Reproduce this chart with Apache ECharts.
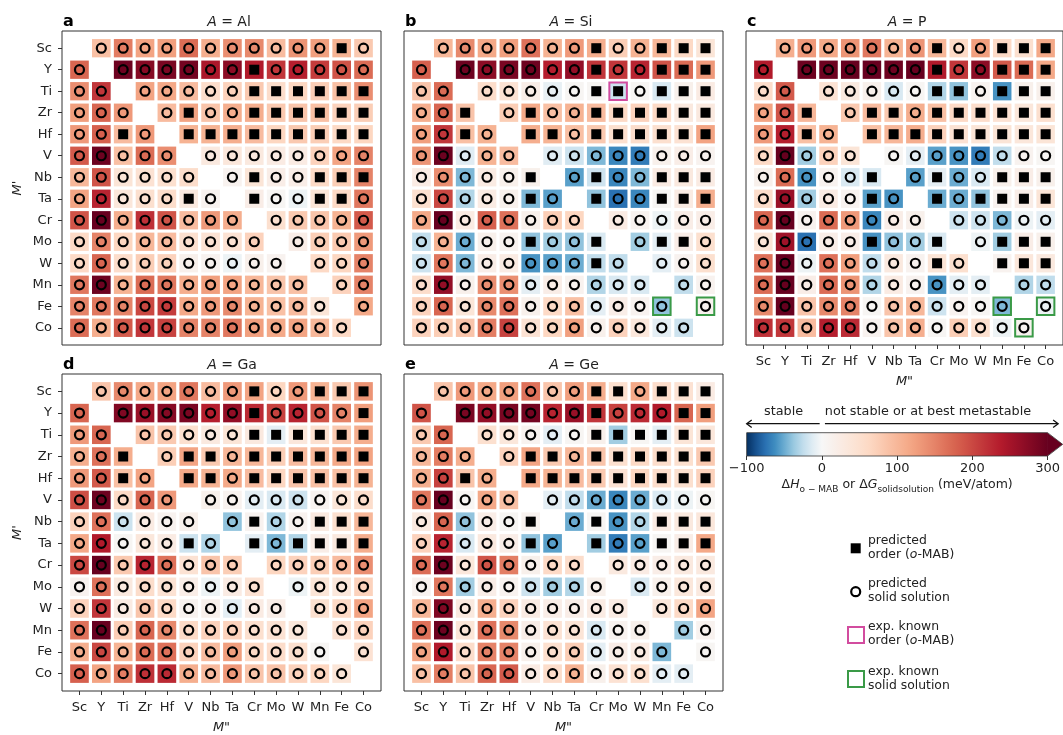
<!DOCTYPE html>
<html>
<head>
<meta charset="utf-8">
<script src="https://cdn.jsdelivr.net/npm/echarts@6/dist/echarts.min.js"></script>
<style>
html,body{margin:0;padding:0;background:#fff}
#chart{width:1063px;height:735px}
</style>
</head>
<body>
<div id="chart"></div>
<script>
// Transition metals on both M' (rows) and M'' (columns)
const elements = ['Sc','Y','Ti','Zr','Hf','V','Nb','Ta','Cr','Mo','W','Mn','Fe','Co'];
const colorbarTicks = [-100, 0, 100, 200, 300];

// Formation energy relative to competing phases (meV/atom); rows = M', columns = M''
const energyAl = [
  [null, 90, 155, 120, 125, 170, 110, 140, 145, 95, 135, 125, 105, 80],
  [175, null, 295, 275, 285, 290, 245, 270, 240, 215, 235, 210, 190, 170],
  [140, 215, null, 120, 115, 95, 55, 70, 80, 55, 65, 75, 90, 140],
  [125, 175, 130, null, 95, 120, 85, 110, 110, 80, 85, 90, 70, 75],
  [130, 180, 95, 130, null, 105, 105, 110, 95, 65, 80, 75, 60, 65],
  [185, 295, 90, 170, 140, null, 30, 35, 30, 25, 25, 70, 120, 150],
  [100, 190, 40, 45, 50, 55, null, 10, 40, 20, 20, 60, 75, 150],
  [120, 230, 35, 50, 55, 30, 10, null, 20, 5, -5, 40, 60, 160],
  [190, 300, 110, 220, 190, 95, 130, 110, null, 50, 80, 85, 105, 185],
  [60, 150, 65, 100, 95, 50, 45, 45, 70, null, 20, 75, 80, 130],
  [60, 175, 55, 75, 70, 15, 10, -5, 15, 10, null, 60, 65, 150],
  [160, 295, 105, 170, 160, 110, 125, 120, 100, 85, 90, null, 70, 150],
  [150, 160, 150, 200, 210, 115, 130, 145, 105, 90, 95, 40, null, 115],
  [170, 110, 185, 215, 205, 150, 150, 160, 125, 115, 120, 100, 60, null]
];
const energySi = [
  [null, 100, 145, 115, 125, 165, 105, 130, 110, 75, 105, 100, 60, 40],
  [180, null, 295, 270, 285, 295, 235, 265, 215, 215, 230, 190, 170, 130],
  [85, 170, null, 55, 45, 20, -8, 5, 5, -20, 5, -15, 15, 25],
  [110, 175, 85, null, 75, 115, 90, 105, 95, 60, 70, 60, 30, 30],
  [125, 215, 90, 105, null, 110, 105, 90, 80, 50, 55, 50, 45, 120],
  [135, 295, -12, 105, 95, null, -12, -20, -45, -65, -70, 15, 20, 10],
  [25, 140, -45, 25, 15, 15, null, -55, -20, -65, -45, 25, 30, 25],
  [50, 200, -30, 25, 15, -45, -55, null, -40, -75, -65, 5, 25, 110],
  [115, 300, 25, 180, 165, 15, 75, 65, null, 25, 10, -5, 20, 20],
  [-25, 105, -50, 15, 10, -40, -35, -40, -15, null, -35, -10, 20, 50],
  [-20, 160, -45, 20, 25, -60, -55, -50, -25, -25, null, -10, 10, 50],
  [55, 265, 15, 140, 140, -10, 20, 10, -30, -15, -15, null, -25, 10],
  [70, 175, 40, 145, 165, 15, 60, 90, -10, 20, 10, -40, null, 10],
  [70, 75, 85, 155, 205, 45, 65, 125, 15, 70, 35, -10, -20, null]
];
const energyP = [
  [null, 110, 130, 115, 135, 160, 105, 135, 100, 60, 125, 60, 50, 115],
  [240, null, 295, 295, 300, 300, 295, 300, 240, 215, 270, 185, 170, 115],
  [55, 185, null, 45, 30, 15, -15, 5, -30, -40, 10, -60, 15, 15],
  [120, 190, 100, null, 80, 95, 80, 110, 90, 60, 55, 45, 35, 50],
  [130, 235, 90, 105, null, 90, 100, 110, 70, 45, 40, 40, 35, 40],
  [60, 300, -35, 70, 40, null, 5, -10, -55, -60, -70, -25, 10, 5],
  [15, 170, -60, 10, -15, -15, null, -55, -10, -50, -15, 15, 20, 15],
  [55, 260, -35, 25, 10, -55, -60, null, -50, -50, -40, 10, 20, 40],
  [175, 300, 10, 170, 130, -65, 20, 15, null, -20, -20, -45, -5, -10],
  [40, 255, -75, 20, 20, -60, -40, -35, -15, null, -5, -35, 20, 15],
  [165, 300, -5, 165, 125, -25, 30, 10, 40, 50, null, 10, 35, 30],
  [170, 300, 20, 170, 135, -30, 25, 10, -60, -10, -10, null, -30, -25],
  [145, 300, 85, 145, 150, 5, 85, 100, -20, 10, 5, -45, null, -5],
  [220, 215, 95, 235, 225, 10, 85, 110, 5, 75, 50, -5, 10, null]
];
const energyGa = [
  [null, 85, 145, 115, 120, 160, 95, 130, 120, 65, 130, 105, 80, 135],
  [175, null, 280, 260, 275, 285, 235, 265, 225, 205, 230, 190, 150, 125],
  [130, 175, null, 85, 80, 50, 30, 40, 30, -10, 35, 50, 80, 110],
  [110, 165, 110, null, 75, 120, 80, 100, 100, 75, 95, 100, 115, 120],
  [130, 185, 90, 120, null, 115, 105, 115, 95, 65, 85, 90, 90, 105],
  [195, 295, 60, 175, 130, null, 15, 10, -10, -15, -20, 10, 40, 55],
  [70, 165, -20, 25, 10, 15, null, -40, 10, -30, 10, 30, 50, 100],
  [115, 240, 5, 35, 25, -20, -30, null, -10, -45, -30, 20, 30, 110],
  [200, 300, 80, 230, 165, 45, 85, 75, null, 65, 70, 75, 95, 140],
  [10, 165, 30, 55, 45, 20, -5, 25, 45, null, -5, 40, 35, 70],
  [70, 215, 25, 85, 60, 10, 15, -10, 25, 20, null, 50, 60, 120],
  [165, 300, 75, 175, 145, 60, 70, 70, 50, 45, 35, null, 45, 70],
  [110, 200, 105, 170, 165, 70, 95, 125, 60, 55, 50, 5, null, 45],
  [180, 120, 155, 220, 225, 110, 95, 130, 85, 85, 70, 65, 40, null]
];
const energyGe = [
  [null, 85, 130, 115, 125, 165, 85, 125, 110, 50, 115, 55, 45, 25],
  [190, null, 285, 265, 285, 290, 230, 260, 215, 205, 225, 240, 175, 125],
  [80, 175, null, 50, 35, 10, -10, 5, 15, -35, 5, -10, 40, 35],
  [100, 155, 110, null, 70, 120, 80, 100, 85, 50, 60, 55, 50, 80],
  [110, 205, 85, 110, null, 115, 105, 95, 80, 45, 65, 55, 50, 70],
  [160, 300, 5, 115, 90, null, -10, -25, -50, -65, -50, -15, -5, 5],
  [30, 175, -40, 20, 5, 10, null, -50, 5, -60, -30, 25, 30, 35],
  [70, 230, -15, 30, 20, -40, -55, null, -35, -70, -55, 5, 20, 115],
  [170, 295, 35, 190, 155, 15, 60, 55, null, 30, 25, 20, 30, 30],
  [10, 160, -35, 20, 10, -20, -35, -30, 15, null, -15, 15, 35, 30],
  [100, 280, 30, 110, 70, 25, 20, 20, 25, 25, null, 35, 60, 120],
  [165, 295, 40, 165, 145, 20, 45, 40, -15, 10, 15, null, -35, 10],
  [120, 240, 55, 150, 150, 15, 50, 75, -10, 20, 25, -45, null, 5],
  [90, 155, 85, 175, 185, 25, 55, 105, 15, 45, 50, -10, -10, null]
];

// Predicted phase: 's' = ordered o-MAB, 'o' = solid solution, '-' = M' = M''
const phaseAl = ['-oooooooooooso','o-oooooosooooo','oo-ooooossssss','ooo-osoossssss','ooso-sssssssss','ooooo-oooooooo','oooooo-osoosss','oooooso-soosso','oooooooo-ooooo','ooooooooo-oooo','oooooooooo-ooo','ooooooooooo-oo','oooooooooooo-o','ooooooooooooo-'];
const phaseSi = ['-ooooooosoosss','o-oooooosoosss','oo-ooooossosss','oos-osoossssss','ooso-ssossssss','ooooo-oooooooo','ooooos-osoosss','oooooso-soosss','oooooooo-ooooo','ooooosoos-osso','ooooooooso-ooo','ooooooooooo-oo','oooooooooooo-o','ooooooooooooo-'];
const phaseP = ['-ooooooosoosss','o-oooooosoosss','oo-ooooossosss','oos-ossossssss','ooso-sssssssss','ooooo-oooooooo','ooooos-osoosss','oooooso-sossss','oooooooo-ooooo','ooooosoos-osss','ooooooooso-sss','ooooooooooo-oo','oooooooooooo-o','ooooooooooooo-'];
const phaseGa = ['-ooooooosoosss','o-oooooosoooos','oo-ooooossssss','oos-ossossssss','ooso-ssossssss','ooooo-oooooooo','oooooo-osoosss','oooooso-sossss','oooooooo-ooooo','ooooooooo-oooo','oooooooooo-ooo','ooooooooooo-oo','oooooooooooo-o','ooooooooooooo-'];
const phaseGe = ['-ooooooossosss','o-oooooosoooss','oo-ooooossssss','ooo-ossossssss','ooso-sssssssss','ooooo-oooooooo','ooooos-osoosss','oooooso-soosss','oooooooo-ooooo','ooooooooo-oooo','oooooooooo-ooo','ooooooooooo-oo','oooooooooooo-o','ooooooooooooo-'];

// Experimentally known compounds, given as [M'', M']
const knownOrderSi = [['Mo','Ti']];
const knownSolidSi = [['Mn','Fe'], ['Co','Fe']];
const knownSolidP = [['Mn','Fe'], ['Co','Fe'], ['Fe','Co']];

const FONT = 'DejaVu Sans';
const INK = '#222';
const PINK = '#d24c9f';
const GREEN = '#3a9a47';

// RdBu_r colormap with a two-slope norm: -100 -> 0, 0 -> 0.5, 300 -> 1
const rdbuR = ['#053061','#2166ac','#4393c3','#92c5de','#d1e5f0','#f7f7f7','#fddbc7','#f4a582','#d6604d','#b2182b','#67001f'];
function hexRgb(h) { return [1, 3, 5].map(i => parseInt(h.slice(i, i + 2), 16)); }
function cmap(t) {
  t = Math.max(0, Math.min(1, t));
  const p = t * 10, i = Math.min(9, Math.floor(p)), f = p - i;
  const a = hexRgb(rdbuR[i]), b = hexRgb(rdbuR[i + 1]);
  const c = a.map((x, k) => Math.round(x + (b[k] - x) * f));
  return 'rgb(' + c.join(',') + ')';
}
function norm(v) { return v < 0 ? 0.5 + Math.max(v, -100) / 200 : 0.5 + Math.min(v, 300) / 600; }
const mapStops = [];
for (let v = -100; v <= 300; v += 12.5) mapStops.push(cmap(norm(v)));

const panels = [
  { letter: 'a', A: 'Al', energy: energyAl, phase: phaseAl, order: [], solid: [], box: [62, 31, 319, 314], yLab: true, xLab: false, titleX: 229 },
  { letter: 'b', A: 'Si', energy: energySi, phase: phaseSi, order: knownOrderSi, solid: knownSolidSi, box: [404, 31, 319, 314], yLab: false, xLab: false, titleX: 571 },
  { letter: 'c', A: 'P', energy: energyP, phase: phaseP, order: [], solid: knownSolidP, box: [746, 31, 319, 314], yLab: false, xLab: true, titleX: 907 },
  { letter: 'd', A: 'Ga', energy: energyGa, phase: phaseGa, order: [], solid: [], box: [62, 374, 319, 317], yLab: true, xLab: true, titleX: 232 },
  { letter: 'e', A: 'Ge', energy: energyGe, phase: phaseGe, order: [], solid: [], box: [404, 374, 319, 317], yLab: false, xLab: true, titleX: 574 }
];

const idx = elements.map((_, i) => i);
const grid = [], xAxis = [], yAxis = [], series = [], graphic = [];
const cellSeries = [];

function renderCell(params, api) {
  const c = api.coord([api.value(0), api.value(1)]);
  const s = api.size([1, 1]);
  const w = s[0] - 3.2, h = s[1] - 3.2;
  return { type: 'rect', shape: { x: c[0] - w / 2, y: c[1] - h / 2, width: w, height: h }, style: { fill: api.visual('color') } };
}

function axisDef(gi, showLab, isY) {
  const ax = {
    gridIndex: gi, type: 'value', min: -0.8, max: 13.8,
    axisLine: { show: false, onZero: false }, splitLine: { show: false },
    axisTick: { show: showLab, customValues: idx, length: 4, lineStyle: { color: '#333', width: 1 } },
    axisLabel: { show: showLab, customValues: idx, formatter: v => elements[Math.round(v)], fontSize: 13, color: INK, fontFamily: FONT, margin: 10 },
    name: showLab ? (isY ? "M'" : 'M"') : '', nameLocation: 'middle', nameGap: isY ? 38 : 30,
    nameTextStyle: { fontStyle: 'italic', fontSize: 13, color: INK, fontFamily: FONT }
  };
  if (isY) ax.inverse = true;
  return ax;
}

panels.forEach((p, gi) => {
  const [l, t, w, h] = p.box;
  grid.push({ left: l, top: t, width: w, height: h, show: true, borderColor: '#333', borderWidth: 1, backgroundColor: 'transparent' });
  xAxis.push(axisDef(gi, p.xLab, false));
  yAxis.push(axisDef(gi, p.yLab, true));

  const cells = [], circles = [], squares = [];
  p.energy.forEach((row, r) => row.forEach((v, c) => {
    if (v === null) return;
    cells.push([c, r, v]);
    const m = p.phase[r][c];
    if (m === 'o') circles.push([c, r]);
    else if (m === 's') squares.push([c, r]);
  }));
  cellSeries.push(series.length);
  series.push({ type: 'custom', xAxisIndex: gi, yAxisIndex: gi, data: cells, encode: { x: 0, y: 1 }, renderItem: renderCell, silent: true, z: 2 });
  series.push({ type: 'scatter', xAxisIndex: gi, yAxisIndex: gi, data: circles, symbol: 'circle', symbolSize: 9, silent: true, z: 3,
    itemStyle: { color: 'rgba(0,0,0,0)', borderColor: '#000', borderWidth: 2.2, opacity: 1 } });
  series.push({ type: 'scatter', xAxisIndex: gi, yAxisIndex: gi, data: squares, symbol: 'rect', symbolSize: 10, silent: true, z: 3,
    itemStyle: { color: '#000', opacity: 1 } });
  const toXY = pair => [elements.indexOf(pair[0]), elements.indexOf(pair[1])];
  if (p.order.length) series.push({ type: 'scatter', xAxisIndex: gi, yAxisIndex: gi, data: p.order.map(toXY), symbol: 'rect', symbolSize: 17.5, silent: true, z: 4,
    itemStyle: { color: 'rgba(0,0,0,0)', borderColor: PINK, borderWidth: 2, opacity: 1 } });
  if (p.solid.length) series.push({ type: 'scatter', xAxisIndex: gi, yAxisIndex: gi, data: p.solid.map(toXY), symbol: 'rect', symbolSize: 17.5, silent: true, z: 4,
    itemStyle: { color: 'rgba(0,0,0,0)', borderColor: GREEN, borderWidth: 2, opacity: 1 } });

  // panel letter and title
  graphic.push({ type: 'text', x: l + 1, y: t - 9, style: { text: p.letter, fontSize: 16, fontWeight: 'bold', fontFamily: FONT, fill: '#000', align: 'left', verticalAlign: 'middle', textAlign: 'left', textVerticalAlign: 'middle' } });
  graphic.push({ type: 'text', x: p.titleX, y: t - 9, style: {
    text: '{i|A} = ' + p.A, fontSize: 14, fontFamily: FONT, fill: INK, align: 'center', verticalAlign: 'middle', textAlign: 'center', textVerticalAlign: 'middle',
    rich: { i: { fontStyle: 'italic', fontSize: 14, fontFamily: FONT, fill: INK } } } });
});

// colorbar on its own axis
const cbIndex = panels.length;
grid.push({ left: 746.7, top: 432.7, width: 306.6, height: 23.3, show: false });
xAxis.push({
  gridIndex: cbIndex, type: 'value', min: colorbarTicks[0], max: colorbarTicks[colorbarTicks.length - 1], interval: 100,
  axisLine: { show: false, onZero: false }, splitLine: { show: false },
  axisTick: { show: true, length: 4, lineStyle: { color: '#333' } },
  axisLabel: { fontSize: 13, color: INK, fontFamily: FONT, margin: 6, formatter: v => String(v).replace('-', '\u2212') },
  name: '\u0394{i|H}{s|o \u2212 MAB} or \u0394{i|G}{s|solidsolution} (meV/atom)',
  nameLocation: 'middle', nameGap: 20,
  nameTextStyle: { fontSize: 12.5, color: INK, fontFamily: FONT, lineHeight: 18,
    rich: { i: { fontStyle: 'italic', fontSize: 12.5, lineHeight: 18, fontFamily: FONT, color: INK },
            s: { fontSize: 9, lineHeight: 10, verticalAlign: 'bottom', fontFamily: FONT, color: INK } } }
});
yAxis.push({ gridIndex: cbIndex, type: 'value', min: 0, max: 1, show: false, axisLine: { onZero: false } });

const gradStops = [];
for (let v = -100; v <= 300; v += 12.5) gradStops.push({ offset: (v + 100) / 400, color: cmap(norm(v)) });

series.push({
  type: 'custom', xAxisIndex: cbIndex, yAxisIndex: cbIndex, silent: true, z: 2,
  data: [[colorbarTicks[0], colorbarTicks[colorbarTicks.length - 1]]],
  renderItem: (params, api) => {
    const pL = api.coord([api.value(0), 0]);
    const pR = api.coord([api.value(1), 1]);
    const x0 = pL[0], x1 = pR[0], yT = pR[1], yB = pL[1], ym = (yT + yB) / 2;
    const ext = (x1 - x0) * 0.05;
    const ay = yT - 9, ty = yT - 21;
    const xa = api.coord([-100, 1])[0], xb = api.coord([-3, 1])[0];
    const xc = api.coord([4, 1])[0], xd = api.coord([314, 1])[0];
    const head = 5;
    const lineStyle = { stroke: '#111', lineWidth: 1.3, fill: null };
    const txt = (s, x) => ({ type: 'text', style: { text: s, x: x, y: ty, fontSize: 12.8, fontFamily: FONT, fill: INK,
      align: 'center', verticalAlign: 'middle', textAlign: 'center', textVerticalAlign: 'middle' } });
    return { type: 'group', children: [
      { type: 'rect', shape: { x: x0, y: yT, width: x1 - x0, height: yB - yT },
        style: { fill: { type: 'linear', x: 0, y: 0, x2: 1, y2: 0, colorStops: gradStops } } },
      { type: 'polygon', shape: { points: [[x1 - 0.5, yT], [x1 + ext, ym], [x1 - 0.5, yB]] }, style: { fill: '#67001f' } },
      { type: 'polygon', shape: { points: [[x0, yT], [x1, yT], [x1 + ext, ym], [x1, yB], [x0, yB]] }, style: { fill: null, stroke: '#333', lineWidth: 0.8 } },
      { type: 'line', shape: { x1: xa, y1: ay, x2: xb, y2: ay }, style: lineStyle },
      { type: 'polyline', shape: { points: [[xa + head, ay - head * 0.75], [xa, ay], [xa + head, ay + head * 0.75]] }, style: lineStyle },
      { type: 'line', shape: { x1: xc, y1: ay, x2: xd, y2: ay }, style: lineStyle },
      { type: 'polyline', shape: { points: [[xd - head, ay - head * 0.75], [xd, ay], [xd - head, ay + head * 0.75]] }, style: lineStyle },
      txt('stable', api.coord([-51, 1])[0]),
      txt('not stable or at best metastable', api.coord([141, 1])[0])
    ] };
  }
});

// marker legend
const lgText = (s, y) => ({ type: 'text', x: 868, y: y, style: {
  text: s, fontSize: 12.4, lineHeight: 14, fontFamily: FONT, fill: INK, align: 'left', verticalAlign: 'top', textAlign: 'left', textVerticalAlign: 'top',
  rich: { i: { fontStyle: 'italic', fontSize: 12.4, lineHeight: 14, fontFamily: FONT, fill: INK } } } });
graphic.push(
  { type: 'rect', shape: { x: 850.7, y: 543.3, width: 10, height: 10 }, style: { fill: '#000' } },
  lgText('predicted\norder ({i|o}-MAB)', 533.7),
  { type: 'circle', shape: { cx: 855.7, cy: 591.7, r: 4.5 }, style: { fill: 'none', stroke: '#000', lineWidth: 2.2 } },
  lgText('predicted\nsolid solution', 576.5),
  { type: 'rect', shape: { x: 848, y: 627, width: 16, height: 16 }, style: { fill: 'none', stroke: PINK, lineWidth: 2 } },
  lgText('exp. known\norder ({i|o}-MAB)', 620),
  { type: 'rect', shape: { x: 848, y: 671, width: 16, height: 16 }, style: { fill: 'none', stroke: GREEN, lineWidth: 2 } },
  lgText('exp. known\nsolid solution', 664.5)
);

const chart = echarts.init(document.getElementById('chart'), null, { renderer: 'canvas' });
chart.setOption({
  animation: false,
  backgroundColor: '#fff',
  textStyle: { fontFamily: FONT },
  grid, xAxis, yAxis, series, graphic,
  visualMap: { type: 'continuous', show: false, min: -100, max: 300, dimension: 2, seriesIndex: cellSeries, inRange: { color: mapStops } }
});
</script>
</body>
</html>
